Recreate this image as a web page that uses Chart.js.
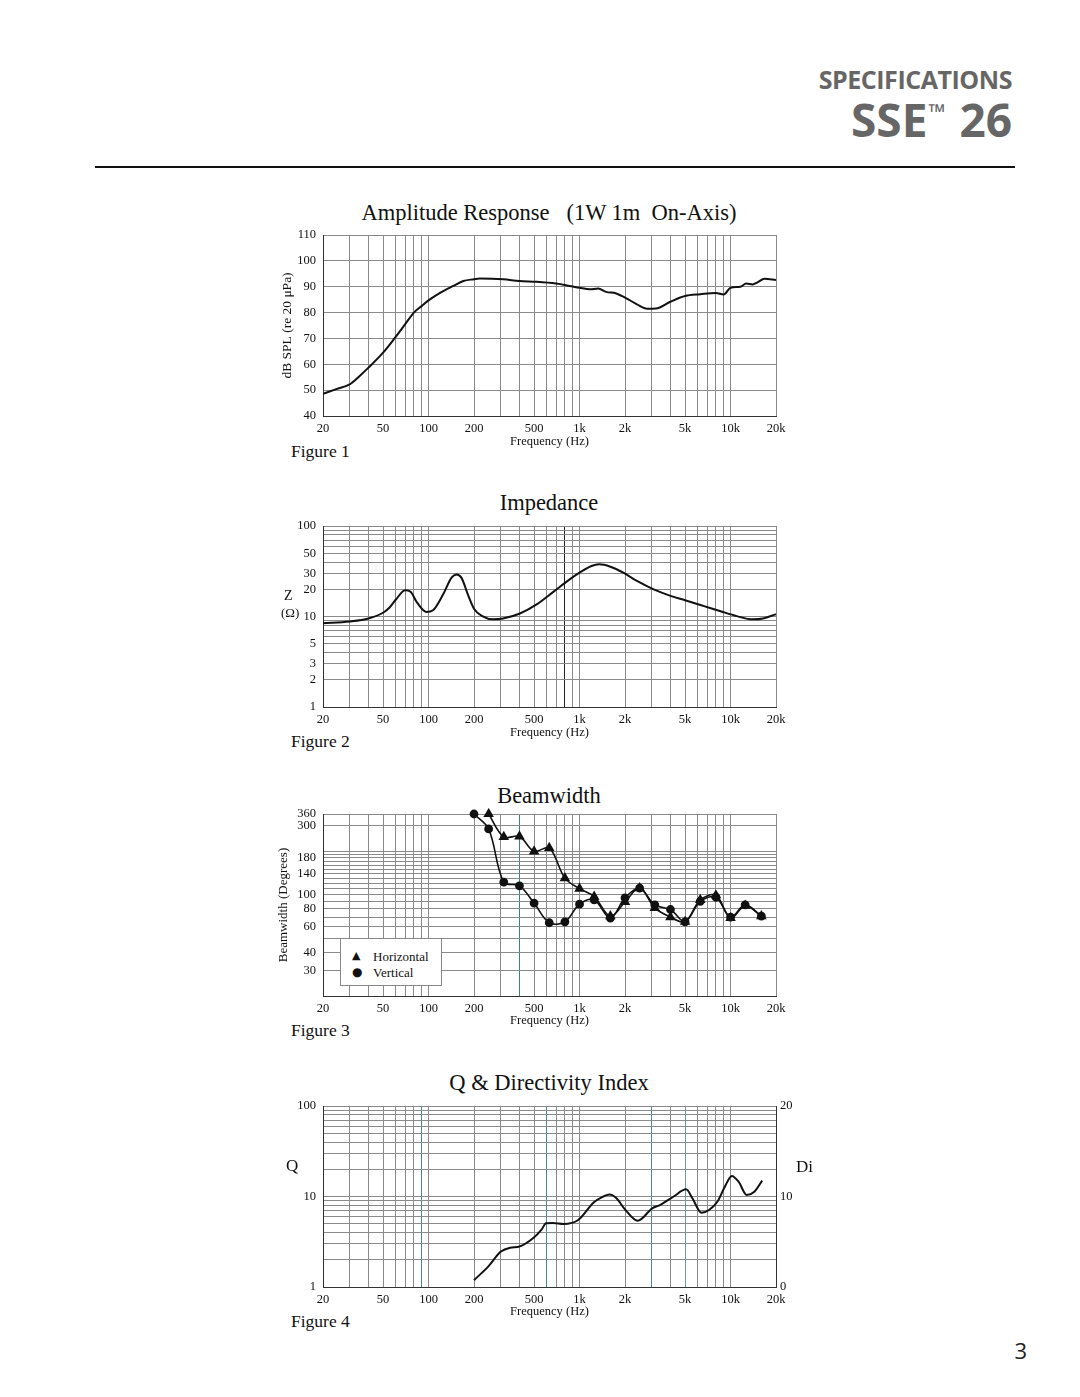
<!DOCTYPE html>
<html lang="en">
<head>
<meta charset="UTF-8">
<title>SSE 26 Specifications</title>
<script src="https://cdn.jsdelivr.net/npm/chart.js"></script>
<style>
  body {
    margin: 0;
    width: 1080px;
    height: 1397px;
    background: #fff;
    position: relative;
    overflow: hidden;
    font-family: 'Liberation Serif', 'Times New Roman', serif;
    color: #111;
  }
  .abs { position: absolute; line-height: 1; white-space: pre; }
  .hdr { font-family: 'Open Sans', sans-serif; font-weight: 700; color: #666; right: 68px; }
  .tm { font-size: 22px; vertical-align: 17px; margin-left: 1px; margin-right: 2px; }
  .rule { position: absolute; left: 95px; top: 166px; width: 920px; height: 2px; background: #111; }
  .ttl { font-size: 22.5px; left: 0; width: 1098px; text-align: center; }
  .fig { font-size: 17.5px; left: 291px; }
  canvas { position: absolute; }
  .legend {
    position: absolute; left: 340px; top: 938px; width: 100px; height: 46px;
    background: #fff; border: 1px solid #888;
  }
  .legend span { position: absolute; line-height: 1; }
</style>
</head>
<body>
  <div class="abs hdr" style="top:67px;font-size:25px;letter-spacing:-0.45px;">SPECIFICATIONS</div>
  <div class="abs hdr" style="top:96px;font-size:46px;">SSE<span class="tm">™</span> 26</div>
  <div class="rule"></div>

  <div class="abs ttl" style="top:202px;">Amplitude Response   (1W 1m  On-Axis)</div>
  <div class="abs ttl" style="top:492px;">Impedance</div>
  <div class="abs ttl" style="top:785px;">Beamwidth</div>
  <div class="abs ttl" style="top:1072px;">Q &amp; Directivity Index</div>

  <div class="abs fig" style="top:443px;">Figure 1</div>
  <div class="abs fig" style="top:733px;">Figure 2</div>
  <div class="abs fig" style="top:1022px;">Figure 3</div>
  <div class="abs fig" style="top:1313px;">Figure 4</div>

  <canvas id="splChart" width="530" height="228" style="left:270px;top:225px;"></canvas>
  <canvas id="zChart" width="530" height="228" style="left:270px;top:516px;"></canvas>
  <canvas id="bwChart" width="530" height="229" style="left:270px;top:804px;"></canvas>
  <canvas id="qChart" width="560" height="228" style="left:270px;top:1096px;"></canvas>

  <div class="abs" style="left:284px;top:589px;font-size:14px;">Z</div>
  <div class="abs" style="left:281px;top:606px;font-size:13px;">(Ω)</div>

  <div class="legend">
    <span style="left:11px;top:11px;font-size:11px;font-family:'DejaVu Sans';">▲</span>
    <span style="left:32px;top:11px;font-size:13px;">Horizontal</span>
    <span style="left:11px;top:27px;font-size:12px;font-family:'DejaVu Sans';">●</span>
    <span style="left:32px;top:27px;font-size:13px;">Vertical</span>
  </div>

  <div class="abs" style="left:286px;top:1157px;font-size:17px;">Q</div>
  <div class="abs" style="left:796px;top:1158px;font-size:17px;">Di</div>

  <div class="abs" style="right:53px;top:1339px;font-size:22px;font-family:'Open Sans',sans-serif;color:#222;">3</div>

<script>
// frequency axis ticks
const freqTickValues = [20, 50, 100, 200, 500, 1000, 2000, 5000, 10000, 20000];
const freqTickText = ['20', '50', '100', '200', '500', '1k', '2k', '5k', '10k', '20k'];

// Figure 1 - amplitude response
const splFreq = [20, 24.5, 30, 35, 40, 50, 60, 70, 80, 90, 100, 120, 146, 170, 200, 218, 312, 400, 520, 700,
  860, 1000, 1170, 1330, 1500, 1750, 2000, 2400, 2800, 3200, 4000, 5000, 6300, 8000, 9000, 10000,
  11600, 12700, 14000, 15000, 16800, 20000];
const splDb = [48.6, 50.4, 52.2, 55.5, 58.7, 64.5, 70.3, 75.5, 80.0, 82.5, 84.7, 87.7, 90.3, 92.2, 92.9, 93.2, 92.9, 92.2, 91.9, 91.2,
  90.3, 89.6, 89.0, 89.3, 88.0, 87.4, 85.8, 83.2, 81.5, 81.6, 84.2, 86.4, 87.1, 87.6, 87.0, 89.6,
  90.0, 91.2, 90.9, 91.6, 93.1, 92.6];

// Figure 2 - impedance
const zFreq = [20, 30, 40, 50, 55, 61, 70, 76, 84, 97, 107, 125, 142, 153, 165, 182, 200, 227, 267, 311,
  403, 520, 670, 860, 1000, 1200, 1350, 1600, 1950, 2400, 3100, 4000, 5000, 6600, 8500, 11000, 14000, 16400, 20000];
const zOhm = [8.4, 8.8, 9.5, 11.0, 12.5, 15.5, 19.5, 18.8, 14.2, 11.2, 11.7, 17.6, 26.9, 29.2, 26.9, 17.6, 12.2, 10.1, 9.3, 9.5,
  10.8, 13.6, 18.7, 25.7, 30.5, 36.1, 37.7, 35.5, 30.5, 24.7, 19.9, 16.9, 15.1, 13.1, 11.5, 10.1, 9.3, 9.5, 10.6];
const zTickValues = [1, 2, 3, 5, 10, 20, 30, 50, 100];

// Figure 3 - beamwidth (1/3 octave)
const bwFreqH = [250, 315, 400, 500, 630, 800, 1000, 1250, 1600, 2000, 2500, 3150, 4000, 5000, 6300, 8000, 10000, 12500, 16000];
const bwHorizontal = [360, 250, 252, 199, 210, 130, 110, 97, 71, 89, 111, 81, 70, 65, 92, 99, 69, 84, 71];
const bwFreqV = [200, 250, 315, 400, 500, 630, 800, 1000, 1250, 1600, 2000, 2500, 3150, 4000, 5000, 6300, 8000, 10000, 12500, 16000];
const bwVertical = [360, 284, 122, 115, 87.5, 64, 65, 86, 92, 69, 95, 111, 85, 79, 65, 90, 96, 70, 85, 71];
const bwTickValues = [30, 40, 60, 80, 100, 140, 180, 300, 360];

// Figure 4 - Q
const qFreq = [200, 250, 300, 347, 400, 494, 560, 600, 667, 785, 980, 1240, 1400, 1580, 1750, 2000, 2430, 3030, 3430,
  4200, 5080, 5600, 6420, 7200, 8200, 9200, 10200, 11300, 12800, 14300, 16200];
const qValue = [1.19, 1.7, 2.45, 2.72, 2.8, 3.47, 4.3, 5.06, 5.1, 4.97, 5.5, 8.6, 9.8, 10.5, 9.6, 7.2, 5.4, 7.4, 8.1,
  10.0, 12.0, 9.5, 6.6, 7.1, 8.8, 13.0, 16.9, 14.6, 10.4, 11.2, 15.0];
const qTickValues = [1, 10, 100];
const diTickValues = [0, 10, 20];

const SERIF = "'Liberation Serif', 'Times New Roman', serif";
const GRID = '#8a8a8a';
const INK = '#111';
Chart.defaults.font.family = SERIF;
Chart.defaults.color = INK;

// grid positions for log axes
function logGrid(lo, hi) {
  const out = [];
  for (let d = 1; d <= hi; d *= 10) {
    for (let k = 1; k <= 9; k++) {
      const v = k * d;
      if (v >= lo && v <= hi) out.push(v);
    }
  }
  return out;
}
const freqGrid = logGrid(20, 20000);

function xy(xs, ys) {
  return xs.map((x, i) => ({ x: x, y: ys[i] }));
}

function freqAxis(padBottom, accents) {
  return {
    type: 'logarithmic',
    min: 20,
    max: 20000,
    afterBuildTicks: s => { s.ticks = freqGrid.map(v => ({ value: v })); },
    afterFit: s => { s.height = 37; s.paddingLeft = 0; s.paddingRight = 0; },
    ticks: {
      autoSkip: false, maxRotation: 0, padding: 5, color: INK,
      font: { size: 12.5 },
      callback: v => {
        const i = freqTickValues.indexOf(v);
        return i >= 0 ? freqTickText[i] : '';
      }
    },
    grid: {
      drawTicks: false,
      color: c => (accents && c.tick && accents[c.tick.value]) || GRID
    },
    border: { color: '#333' },
    title: {
      display: true, text: 'Frequency (Hz)', color: INK,
      font: { size: 12.5 }, padding: { top: 0, bottom: padBottom }
    }
  };
}

function logYAxis(lo, hi, grid, labels, width, title, titlePad) {
  return {
    type: 'logarithmic',
    min: lo,
    max: hi,
    afterBuildTicks: s => { s.ticks = grid.map(v => ({ value: v })); },
    afterFit: s => { s.width = width; s.paddingTop = 0; s.paddingBottom = 0; },
    ticks: {
      autoSkip: false, padding: 7, color: INK, font: { size: 12.5 },
      callback: v => labels.indexOf(v) >= 0 ? String(v) : ''
    },
    grid: { drawTicks: false, color: GRID },
    border: { color: '#333' },
    title: title ? {
      display: true, text: title, color: INK, font: { size: 13 },
      padding: { top: titlePad, bottom: 0 }
    } : { display: false }
  };
}

const baseOpts = {
  responsive: false,
  animation: false,
  devicePixelRatio: 1,
  plugins: { legend: { display: false }, tooltip: { enabled: false } }
};

// Figure 1
new Chart(document.getElementById('splChart'), {
  type: 'line',
  data: {
    datasets: [{
      data: xy(splFreq, splDb),
      borderColor: INK, borderWidth: 2, pointRadius: 0,
      cubicInterpolationMode: 'monotone'
    }]
  },
  options: {
    ...baseOpts,
    layout: { padding: { top: 10, right: 24, bottom: 0, left: 0 } },
    scales: {
      x: freqAxis(4),
      y: {
        type: 'linear', min: 40, max: 110,
        afterFit: s => { s.width = 53; s.paddingTop = 0; s.paddingBottom = 0; },
        ticks: { stepSize: 10, padding: 7, color: INK, font: { size: 12.5 } },
        grid: { drawTicks: false, color: GRID },
        border: { color: '#333' },
        title: {
          display: true, text: 'dB SPL (re 20 μPa)', color: INK,
          font: { size: 13.5 }, padding: { top: 9, bottom: 0 }
        }
      }
    }
  }
});

// Figure 2
new Chart(document.getElementById('zChart'), {
  type: 'line',
  data: {
    datasets: [{
      data: xy(zFreq, zOhm),
      borderColor: INK, borderWidth: 2, pointRadius: 0,
      cubicInterpolationMode: 'monotone'
    }]
  },
  options: {
    ...baseOpts,
    layout: { padding: { top: 10, right: 24, bottom: 0, left: 0 } },
    scales: {
      x: freqAxis(4, { 800: '#222' }),
      y: logYAxis(1, 100, logGrid(1, 100), zTickValues, 53)
    }
  }
});

// Figure 3
const bwGrid = [20, 30, 40, 50, 60, 70, 80, 90, 100, 110, 120, 130, 140, 150, 160, 170, 180, 190, 200, 300, 360];
new Chart(document.getElementById('bwChart'), {
  type: 'line',
  data: {
    datasets: [{
      label: 'Horizontal',
      data: xy(bwFreqH, bwHorizontal),
      borderColor: INK, borderWidth: 1.6, tension: 0.35,
      pointStyle: 'triangle', pointRadius: 4.5,
      pointBackgroundColor: INK, pointBorderColor: INK
    }, {
      label: 'Vertical',
      data: xy(bwFreqV, bwVertical),
      borderColor: INK, borderWidth: 1.6, tension: 0.35,
      pointStyle: 'circle', pointRadius: 3.6,
      pointBackgroundColor: INK, pointBorderColor: INK
    }]
  },
  options: {
    ...baseOpts,
    clip: false,
    layout: { padding: { top: 10, right: 24, bottom: 0, left: 0 } },
    scales: {
      x: freqAxis(5, { 400: '#3f7f86' }),
      y: logYAxis(20, 360, bwGrid, bwTickValues, 53, 'Beamwidth (Degrees)', 6)
    }
  }
});

// Figure 4
new Chart(document.getElementById('qChart'), {
  type: 'line',
  data: {
    datasets: [{
      data: xy(qFreq, qValue),
      borderColor: INK, borderWidth: 2, pointRadius: 0,
      cubicInterpolationMode: 'monotone'
    }]
  },
  options: {
    ...baseOpts,
    layout: { padding: { top: 10, right: 0, bottom: 0, left: 0 } },
    scales: {
      x: freqAxis(5, { 90: '#4f8a90', 600: '#4f8a90', 3000: '#4f8a90', 5000: '#6f9aa0' }),
      y: logYAxis(1, 100, logGrid(1, 100), qTickValues, 53),
      y1: {
        type: 'linear', position: 'right', min: 0, max: 20,
        afterBuildTicks: s => { s.ticks = diTickValues.map(v => ({ value: v })); },
        afterFit: s => { s.width = 54; s.paddingTop = 0; s.paddingBottom = 0; },
        ticks: { padding: 4, color: INK, font: { size: 12.5 } },
        grid: { display: false, drawTicks: false },
        border: { color: '#333' }
      }
    }
  }
});
</script>
</body>
</html>
